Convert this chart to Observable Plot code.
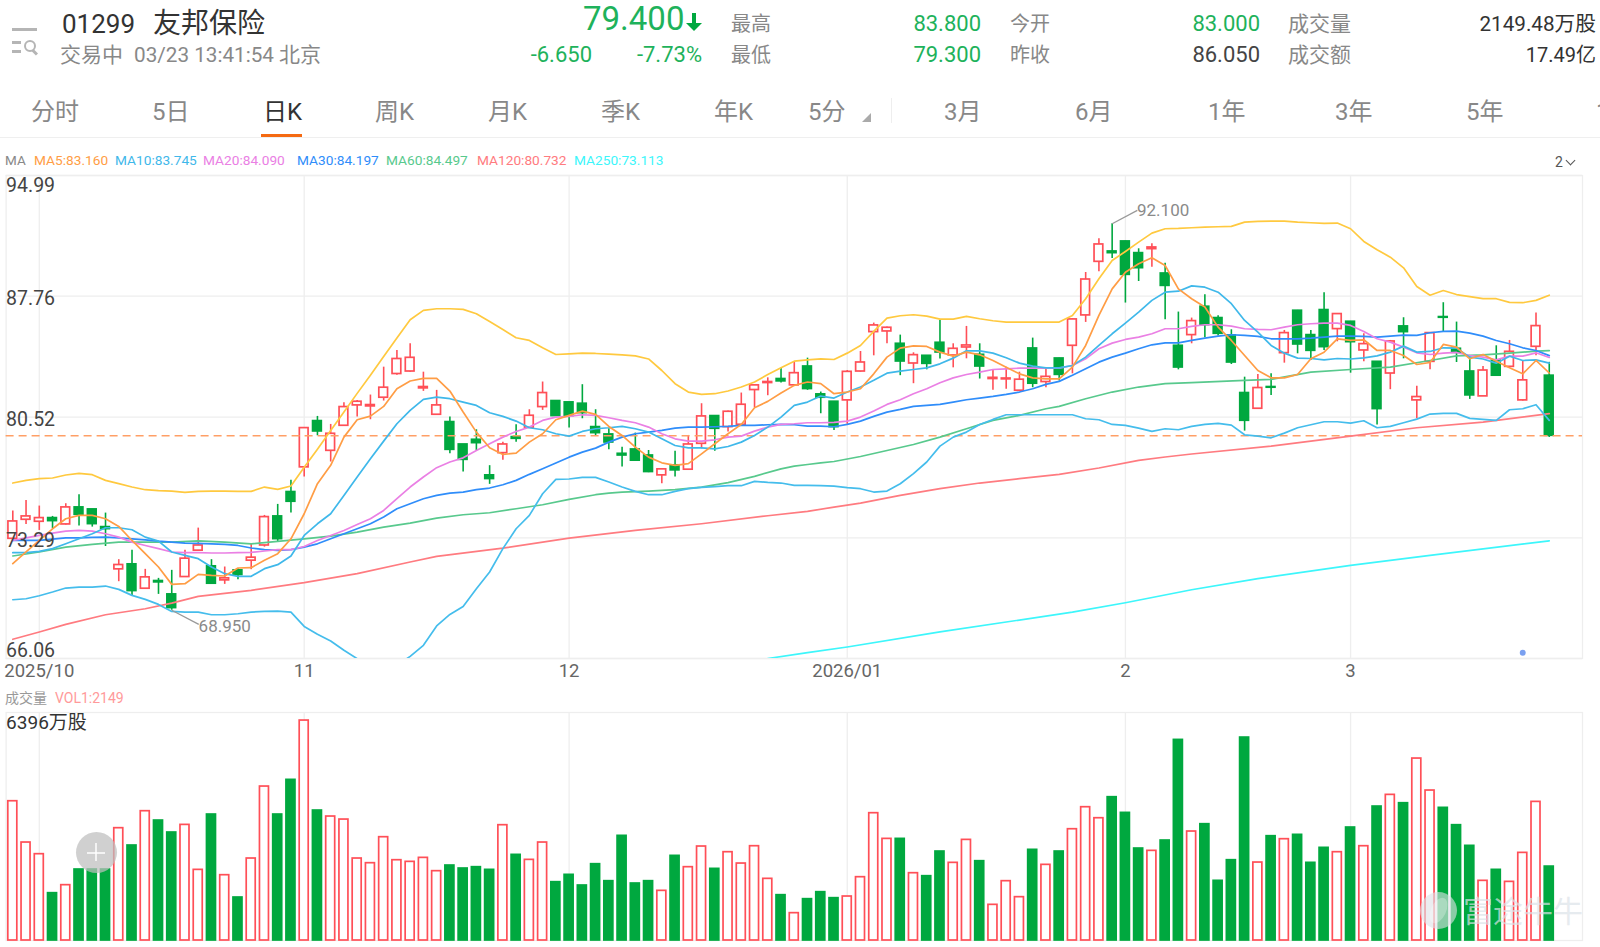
<!DOCTYPE html>
<html lang="zh">
<head>
<meta charset="utf-8">
<title>01299 友邦保险</title>
<script src="https://cdn.jsdelivr.net/npm/d3@7"></script>
<script src="https://cdn.jsdelivr.net/npm/@observablehq/plot@0.6"></script>
<style>
html,body{margin:0;padding:0;background:#fff;}
#page{position:relative;width:1600px;height:947px;overflow:hidden;background:#fff;font-family:Roboto,"Noto Sans CJK SC",sans-serif;}
#page svg{position:absolute;left:0;background:transparent;}
.t{position:absolute;line-height:1;white-space:nowrap;transform:translateY(-50%);}
</style>
</head>
<body>
<div id="page"></div>
<script>
const candleHigh=[74.89,75.53,75.19,74.57,75.33,75.87,74.99,74.77,71.98,72.54,71.40,70.86,71.34,72.54,73.87,71.98,71.54,71.44,72.90,74.63,75.29,76.73,79.88,80.56,80.08,81.38,81.52,81.84,83.51,84.51,
84.91,83.21,82.12,80.52,78.88,79.76,77.61,79.02,80.06,80.96,82.62,81.48,81.40,82.46,80.96,79.82,78.72,79.56,78.52,77.43,78.48,79.42,81.32,80.58,80.88,81.96,82.42,82.87,83.45,83.81,
84.05,82.02,81.46,83.31,84.45,86.15,85.91,85.43,84.37,84.19,86.31,84.91,85.95,84.91,83.37,83.51,83.21,85.25,83.47,84.05,86.41,89.18,91.20,92.10,91.06,90.60,90.90,89.74,86.81,86.45,
87.85,86.59,85.75,82.91,83.07,83.11,85.71,86.91,85.71,87.97,86.71,86.25,85.51,83.85,85.11,86.47,82.36,85.59,87.37,86.21,84.11,83.55,84.79,85.11,83.87,86.75,83.80];
const candleTop=[74.27,74.57,74.47,74.47,75.11,75.11,74.99,73.93,71.66,71.70,70.92,70.70,69.90,72.04,72.83,71.58,70.86,71.34,72.10,74.53,74.57,76.03,79.86,80.28,79.52,81.12,81.44,81.24,82.28,84.00,
84.07,82.32,81.22,80.22,78.88,79.16,77.03,78.88,79.32,80.60,81.96,81.48,81.40,81.32,79.92,79.48,78.32,78.58,78.22,77.39,77.63,78.88,80.56,80.58,80.84,81.26,82.42,82.62,82.80,83.15,
83.55,81.88,81.44,83.23,83.79,86.01,85.87,84.91,84.23,84.19,84.97,84.61,84.81,84.25,82.87,82.83,82.76,84.63,82.93,84.03,86.37,88.76,90.86,90.44,91.04,90.34,90.68,89.12,84.79,86.27,
87.13,86.45,85.41,81.96,82.26,82.32,85.55,86.89,85.43,86.93,86.69,86.23,84.89,83.83,85.05,85.95,81.72,85.55,86.51,84.61,83.25,83.31,83.91,84.43,82.72,85.97,83.00];
const candleBottom=[73.23,74.37,74.25,74.29,74.09,74.67,74.11,73.81,71.40,70.10,70.24,70.62,69.08,70.94,72.52,70.54,70.74,71.06,71.92,72.83,73.21,75.45,77.51,79.66,78.50,80.00,81.22,81.16,81.68,83.10,
83.25,82.24,80.66,78.56,77.96,78.96,76.81,78.36,79.22,79.88,81.12,80.58,80.58,80.76,79.56,79.00,78.22,77.91,77.23,77.03,77.33,77.37,78.92,79.82,79.92,80.06,82.14,82.56,82.66,82.42,
82.20,81.68,79.92,81.52,83.25,85.61,85.65,83.85,83.73,83.71,84.39,84.21,84.69,83.55,82.80,82.78,82.10,82.52,82.62,83.05,84.79,86.61,89.82,90.34,89.04,89.44,90.58,88.38,83.49,85.43,
86.03,85.51,83.79,80.30,81.02,82.28,84.35,84.87,84.49,84.71,85.79,85.01,84.51,81.00,83.13,85.61,81.52,83.83,86.47,84.37,81.82,81.76,83.00,83.53,81.52,84.73,79.40];
const candleLow=[73.23,74.09,73.73,73.83,74.05,73.99,73.93,72.77,70.66,69.82,70.24,69.90,68.95,70.94,72.52,70.54,70.50,70.78,71.38,72.73,73.03,74.77,76.93,79.40,77.83,79.96,80.52,80.36,81.48,83.02,
83.21,82.06,80.62,78.32,77.23,78.52,76.49,77.93,79.02,79.88,80.92,80.58,79.86,80.42,79.38,78.56,77.53,77.87,77.19,76.53,76.93,77.37,78.62,78.48,79.62,80.02,81.08,81.80,82.56,82.36,
82.12,80.72,79.72,80.08,83.21,84.19,84.91,83.00,82.52,83.35,84.00,83.47,84.01,82.80,82.12,82.18,82.04,82.28,82.28,82.68,83.11,86.19,89.22,90.02,87.35,88.64,89.50,86.35,83.35,84.91,
85.27,85.37,83.67,79.68,81.00,81.82,83.75,84.31,83.91,84.51,85.03,83.15,83.83,80.04,82.16,84.01,80.42,83.35,85.61,83.79,81.58,81.76,83.00,83.47,81.48,84.19,79.30];
const fallingDays=[3,5,6,7,9,11,12,15,17,20,21,23,33,34,35,36,38,41,42,43,44,45,46,47,48,50,53,58,60,61,62,67,69,70,73,77,79,83,84,85,87,88,90,91,92,93,95,97,98,99,101,103,105,108,109,110,112,116];
const volumes=[4050,2849,2510,1376,1609,2064,2064,2064,3266,2762,3760,3488,3140,3362,2054,3663,1899,1250,2384,4477,3663,4671,6396,3779,3605,3517,2384,2248,3004,2335,
2287,2403,2016,2180,2093,2132,2054,3353,2490,2345,2849,1696,1909,1599,2219,1725,3043,1657,1725,1444,2461,2132,2733,2083,2568,2238,2742,1793,1318,795,
1202,1405,1231,1279,1841,3702,2955,2955,1957,1870,2587,2258,2926,2306,1037,1725,1260,2636,2200,2587,3236,3876,3556,4167,3711,2674,2607,2907,5833,3169,
3382,1735,2335,5901,2267,3033,2946,3072,2258,2694,2568,3285,2742,3895,4235,3992,5291,4361,3857,3353,2752,1735,2054,1705,2548,4031,2149];

const ma5=[71.74,72.44,73.13,73.83,74.43,74.63,74.63,74.43,73.97,73.13,72.34,71.54,70.50,70.54,71.10,71.04,71.00,71.48,71.50,71.94,72.34,73.23,74.73,76.53,77.63,79.32,80.36,80.58,81.16,82.22,
82.68,82.84,82.84,82.08,80.82,79.62,78.68,78.28,78.36,79.02,79.52,80.36,80.62,80.88,80.68,79.96,79.42,78.72,78.12,77.78,77.63,77.73,78.32,78.92,79.52,80.08,81.08,81.46,81.96,82.42,
82.62,82.52,81.92,82.02,82.22,83.11,84.11,84.65,84.79,84.75,84.41,84.17,84.41,84.25,83.91,83.51,83.11,82.87,82.81,82.81,83.51,84.81,86.61,88.20,89.20,89.70,90.06,89.60,88.20,87.61,
87.11,85.91,85.11,84.21,83.31,82.87,82.87,83.07,84.01,84.41,85.21,85.11,85.15,84.51,84.51,84.21,83.67,83.79,84.87,84.71,84.01,84.27,83.87,83.47,83.11,83.91,83.16];
const ma10=[72.40,72.40,72.48,72.64,72.93,73.23,73.53,73.89,73.89,73.77,73.33,73.09,72.44,72.24,72.04,71.54,71.14,70.98,70.98,71.44,71.68,72.20,73.43,74.13,74.73,75.83,76.93,78.02,79.08,80.12,
80.92,81.58,81.72,81.62,81.42,81.22,80.78,80.56,80.28,79.88,79.76,79.52,79.38,79.66,79.82,79.88,79.96,79.82,79.62,79.22,78.82,78.68,78.68,78.62,78.76,79.02,79.42,79.92,80.52,81.22,
81.42,81.78,81.66,82.02,82.32,82.72,83.15,83.27,83.37,83.47,83.71,84.05,84.49,84.49,84.35,84.07,83.75,83.57,83.47,83.47,83.61,84.11,84.81,85.51,86.15,86.81,87.51,88.00,88.06,88.38,
88.30,88.00,87.31,86.31,85.61,84.81,84.35,84.05,84.03,83.95,84.03,84.00,84.07,84.19,84.41,84.77,84.41,84.45,84.67,84.65,84.11,84.00,83.75,84.17,83.91,83.95,83.75];
const ma20=[73.13,73.28,73.43,73.57,73.69,73.73,73.69,73.53,73.33,73.03,72.83,72.64,72.44,72.40,72.40,72.38,72.38,72.40,72.42,72.50,72.58,72.58,72.77,73.13,73.43,73.73,74.09,74.43,74.93,75.63,
76.33,76.93,77.49,77.83,78.08,78.52,78.92,79.32,79.66,79.92,80.32,80.52,80.56,80.66,80.62,80.48,80.32,80.18,79.92,79.52,79.22,79.08,79.08,79.16,79.32,79.38,79.68,79.92,80.08,80.12,
80.18,80.18,80.20,80.28,80.52,80.88,81.28,81.56,81.92,82.22,82.58,82.87,83.07,83.21,83.37,83.41,83.45,83.45,83.45,83.45,83.61,84.01,84.61,84.95,85.17,85.31,85.51,85.81,85.81,85.95,
86.05,86.05,85.97,85.81,85.77,85.75,85.91,86.05,86.11,86.15,86.15,86.01,85.65,85.21,85.01,84.71,84.37,84.27,84.35,84.39,84.21,84.11,83.95,84.17,84.17,84.37,84.09];
const ma30=[73.13,73.13,73.13,73.21,73.28,73.28,73.32,73.33,73.29,73.23,73.17,73.09,73.03,72.97,72.95,72.93,72.89,72.83,72.68,72.58,72.54,72.58,72.73,72.93,73.23,73.53,73.83,74.13,74.53,75.03,
75.33,75.63,75.83,75.97,76.03,76.17,76.27,76.47,76.73,77.09,77.42,77.77,78.12,78.42,78.66,79.02,79.32,79.52,79.62,79.72,79.86,79.92,79.92,79.94,79.96,80.02,80.02,80.06,80.08,80.06,
79.98,79.98,79.94,80.08,80.28,80.56,80.82,80.98,81.16,81.22,81.28,81.42,81.56,81.66,81.76,81.88,82.02,82.22,82.48,82.66,83.02,83.41,83.81,84.11,84.35,84.61,84.85,84.97,84.97,85.11,
85.25,85.37,85.45,85.41,85.35,85.21,85.21,85.21,85.25,85.31,85.37,85.37,85.35,85.31,85.37,85.43,85.41,85.57,85.65,85.67,85.55,85.37,85.11,84.91,84.67,84.51,84.20];
const ma60Days=[0,2,4,6,8,10,12,14,16,18,20,22,24,26,28,30,32,34,36,38,40,42,44,45,46,48,50,52,54,56,58,59,60,61,62,64,66,68,70,72,74,76,78,79,81,83,85,87,89,93,95,98,101,104,107,109,111,113,115,116];
const ma60=[72.20,72.44,72.73,72.89,73.03,73.03,73.03,73.11,73.03,72.93,73.07,73.23,73.39,73.63,73.93,74.17,74.47,74.67,74.79,75.03,75.27,75.59,75.87,75.97,76.03,76.09,76.17,76.33,76.59,76.97,77.42,77.58,77.68,77.78,77.86,78.16,78.52,78.88,79.32,79.82,80.32,80.62,81.02,81.16,81.62,82.02,82.32,82.52,82.58,82.72,82.78,83.21,83.37,83.51,83.91,84.19,84.25,84.35,84.47,84.50];
const ma120Days=[0,2,4,7,10,12,14,18,22,26,30,32,37,42,47,52,57,60,62,64,67,70,73,76,79,82,85,87,89,95,101,106,111,116];
const ma120=[67.21,67.65,68.10,68.68,69.04,69.38,69.78,70.14,70.60,71.14,71.84,72.18,72.67,73.27,73.73,74.13,74.61,74.87,75.13,75.37,75.83,76.23,76.57,76.83,77.09,77.47,77.93,78.13,78.31,78.78,79.38,79.88,80.22,80.73];
const ma250Days=[57,60,63,70,80,84,89,94,101,107,116];
const ma250=[66.06,66.41,66.75,67.65,68.84,69.40,70.18,70.84,71.64,72.24,73.11];
const bandUpper=[76.57,76.73,76.83,76.87,77.05,77.15,77.07,76.73,76.53,76.33,76.17,76.11,76.09,76.01,76.07,76.09,76.09,76.07,76.07,76.33,76.19,76.39,77.51,78.60,79.72,80.82,81.94,83.03,84.15,85.25,
86.35,86.91,87.01,87.01,86.97,86.71,86.25,85.77,85.27,85.11,84.67,84.27,84.31,84.35,84.33,84.29,84.25,84.19,84.00,83.31,82.52,82.02,81.88,81.92,82.08,82.32,82.62,83.07,83.47,83.87,
83.95,84.01,83.97,84.35,84.81,85.65,86.45,86.59,86.65,86.57,86.39,86.39,86.55,86.41,86.29,86.21,86.21,86.21,86.21,86.21,86.61,87.61,88.80,89.90,90.44,91.00,91.54,91.80,91.82,91.86,
91.90,91.92,91.94,92.20,92.24,92.26,92.26,92.20,92.16,92.12,92.14,91.80,91.04,90.54,90.10,89.46,88.34,87.82,88.10,87.86,87.74,87.61,87.61,87.39,87.37,87.51,87.82];
const bandLower=[69.58,69.64,69.82,70.04,70.28,70.34,70.34,70.40,70.20,69.84,69.60,69.30,68.88,68.84,68.84,68.68,68.68,68.74,68.84,68.88,68.90,68.84,67.98,67.51,67.11,66.55,66.05,65.65,65.45,65.65,
66.19,66.85,68.01,68.70,69.18,70.24,71.24,72.64,73.83,74.63,75.93,76.79,76.81,76.91,76.91,76.63,76.33,76.07,75.87,75.87,76.07,76.23,76.31,76.35,76.41,76.41,76.67,76.61,76.57,76.43,
76.43,76.41,76.39,76.29,76.23,76.03,76.09,76.53,77.13,77.83,78.78,79.32,79.62,80.08,80.38,80.66,80.66,80.66,80.66,80.66,80.66,80.42,80.36,80.08,80.02,79.86,79.66,79.82,79.76,79.96,
80.08,80.14,80.04,79.46,79.38,79.28,79.56,79.88,80.06,80.24,80.24,80.16,80.30,79.88,79.96,80.18,80.40,80.70,80.74,80.74,80.44,80.38,80.32,80.96,81.02,81.26,80.32];

const priceTicks=[94.99,87.76,80.52,73.29,66.06];
const monthDays=[2,22,42,63,84,101];
const monthLabels=["2025/10","11","12","2026/01","2","3"];
const lastPrice=79.4;
const maColors={ma5:"#ff9d45",ma10:"#3fb8ea",ma20:"#ea80e4",ma30:"#2f8dfa",ma60:"#58c98d",ma120:"#ff7b80",ma250:"#3df6fb",upper:"#ffc93f",lower:"#45bdec"};
const upColor="#ff4f57",downColor="#00a83f",gridColor="#eeeeee";
const legendItems=[["MA5:83.160",34,maColors.ma5],["MA10:83.745",115,maColors.ma10],["MA20:84.090",203,maColors.ma20],["MA30:84.197",297,maColors.ma30],["MA60:84.497",386,maColors.ma60],["MA120:80.732",477,maColors.ma120],["MA250:73.113",574,maColors.ma250]];
const tabs=[["分时",31],["5日",152],["日K",263],["周K",375],["月K",488],["季K",601],["年K",714],["5分",808],["3月",944],["6月",1075],["1年",1208],["3年",1335],["5年",1466],["10年",1596]];

const fall=new Set(fallingDays);
const days=d3.range(candleHigh.length);
const candles=days.map(i=>({i,high:candleHigh[i],top:candleTop[i],bottom:candleBottom[i],low:candleLow[i],vol:volumes[i],down:fall.has(i)}));
const seq=(vals,idx)=>vals.map((v,k)=>({i:idx?idx[k]:k,v}));
const xDomain=[-0.506,118.51];
const lineMark=(vals,color,idx)=>Plot.line(seq(vals,idx),{x:"i",y:"v",stroke:color,strokeWidth:1.7,clip:true});
const page=document.getElementById("page");

function put(text,x,y,o={}){
  const s=document.createElement("span");s.className="t";s.textContent=text;
  s.style.fontSize=(o.size||20)+"px";s.style.color=o.color||"#888";
  if(o.right){s.style.right=(1600-x)+"px";}else{s.style.left=x+"px";}
  s.style.top=y+"px";if(o.weight)s.style.fontWeight=o.weight;
  page.appendChild(s);return s;
}
function box(x,y,w,h,bg,extra){
  const d=document.createElement("div");d.style.cssText=`position:absolute;left:${x}px;top:${y}px;width:${w}px;height:${h}px;background:${bg};${extra||""}`;
  page.appendChild(d);return d;
}

// header
box(12,28,25,3,"#b5b5b5");box(12,41,9,2.5,"#b5b5b5");box(12,50,9,2.5,"#b5b5b5");
box(24,40,12,12,"transparent","border:2.5px solid #b5b5b5;border-radius:50%;box-sizing:border-box;");
box(32,51,6,2.5,"#b5b5b5","transform:rotate(45deg);");
put("01299",62,24,{size:26,color:"#333"});put("友邦保险",153,24,{size:28,color:"#333"});
put("交易中",60,55,{size:21});put("03/23 13:41:54",134,55,{size:20.7});put("北京",279,55,{size:21});
put("79.400",583,18,{size:33,color:"#1eb25b"});
box(692,13,4,10,"#00a83f");box(686,23,0,0,"transparent","border-left:8px solid transparent;border-right:8px solid transparent;border-top:8px solid #00a83f;");
put("-6.650",592,55,{size:22,color:"#1eb25b",right:true});put("-7.73%",702,55,{size:22,color:"#1eb25b",right:true});
put("最高",731,24,{size:20});put("最低",731,55,{size:20});
put("83.800",981,24,{size:22,color:"#1eb25b",right:true});put("79.300",981,55,{size:22,color:"#1eb25b",right:true});
put("今开",1010,24,{size:20});put("昨收",1010,55,{size:20});
put("83.000",1260,24,{size:22,color:"#1eb25b",right:true});put("86.050",1260,55,{size:22,color:"#444",right:true});
put("成交量",1288,24,{size:21});put("成交额",1288,55,{size:21});
put("2149.48万股",1596,24,{size:20.7,color:"#333",right:true});put("17.49亿",1596,55,{size:20,color:"#333",right:true});
tabs.forEach(([t,x])=>put(t,x,112,{size:24,color:t==="日K"?"#333":"#888"}));
box(862,113,0,0,"transparent","border-left:9px solid transparent;border-bottom:9px solid #aaa;");
box(891,98,1,25,"#eee");box(261,134,41,3,"#f56a12");box(0,137,1600,1,"#efefef");
put("MA",5,161,{size:13.5,color:"#888"});
legendItems.forEach(([t,x,c])=>put(t,x,161,{size:13.7,color:c}));
put("2",1555,162,{size:14,color:"#555"});
box(1567,157,7,7,"transparent","border-right:1.5px solid #555;border-bottom:1.5px solid #555;transform:rotate(45deg);box-sizing:border-box;");

// price chart
const kChart=Plot.plot({
  width:1600,height:525,marginTop:15,marginBottom:27,marginLeft:5.6,marginRight:18,
  style:{background:"transparent",fontFamily:"Roboto,'Noto Sans CJK SC',sans-serif"},
  x:{type:"linear",domain:xDomain,axis:null},
  y:{domain:[priceTicks[4],priceTicks[0]],axis:null},
  marks:[
    Plot.gridY(priceTicks,{stroke:gridColor,strokeOpacity:1,strokeWidth:1.3}),
    Plot.gridX(monthDays,{stroke:gridColor,strokeOpacity:1,strokeWidth:1.3}),
    Plot.frame({stroke:gridColor,strokeWidth:1.3}),
    Plot.ruleX(candles,{x:"i",y1:"low",y2:"high",stroke:d=>d.down?downColor:upColor,strokeWidth:1.6}),
    Plot.rect(candles,{x1:d=>d.i-0.33,x2:d=>d.i+0.33,y1:"bottom",y2:"top",fill:d=>d.down?downColor:"#fff",stroke:d=>d.down?downColor:upColor,strokeWidth:1.7}),
    Plot.ruleY([lastPrice],{stroke:"#ff9f66",strokeWidth:1.6,strokeDasharray:"8,5"}),
    lineMark(ma250,maColors.ma250,ma250Days),
    lineMark(ma120,maColors.ma120,ma120Days),
    lineMark(ma60,maColors.ma60,ma60Days),
    lineMark(bandLower,maColors.lower),
    lineMark(bandUpper,maColors.upper),
    lineMark(ma30,maColors.ma30),
    lineMark(ma20,maColors.ma20),
    lineMark(ma10,maColors.ma10),
    lineMark(ma5,maColors.ma5),
    Plot.link([{x1:83,y1:92.1,x2:84.9,y2:92.9},{x1:12,y1:68.95,x2:14.04,y2:68.1}],{x1:"x1",y1:"y1",x2:"x2",y2:"y2",stroke:"#999",strokeWidth:1.3}),
    Plot.text([{x:84.8,y:92.9,t:"92.100"},{x:13.95,y:68.0,t:"68.950"}],{x:"x",y:"y",text:"t",textAnchor:"start",dx:1,fontSize:17,fill:"#8a8a8a"}),
    Plot.text(priceTicks.slice(0,1),{y:d=>d,text:d=>d.toFixed(2),frameAnchor:"left",textAnchor:"start",dx:0,dy:10,fontSize:19.5,fill:"#444"}),
    Plot.text(priceTicks.slice(1,4),{y:d=>d,text:d=>d.toFixed(2),frameAnchor:"left",textAnchor:"start",dx:0,dy:3,fontSize:19.5,fill:"#444"}),
    Plot.text(priceTicks.slice(4),{y:d=>d,text:d=>d.toFixed(2),frameAnchor:"left",textAnchor:"start",dx:0,dy:-8,fontSize:19.5,fill:"#444"}),
    Plot.text(monthDays,{x:d=>d,text:(d,k)=>monthLabels[k],frameAnchor:"bottom",dy:18,fontSize:18.5,fill:"#666"}),
    Plot.dot([{x:114,y:66.4}],{x:"x",y:"y",r:3,fill:"#7aa0f0"})
  ]
});
kChart.style.top="160px";page.appendChild(kChart);

put("成交量",5,698,{size:14,color:"#999"});put("VOL1:2149",55,698,{size:14,color:"#ff9a9a"});

// volume chart
const volChart=Plot.plot({
  width:1600,height:247,marginTop:12,marginBottom:7,marginLeft:5.6,marginRight:18,
  style:{background:"transparent",fontFamily:"Roboto,'Noto Sans CJK SC',sans-serif"},
  x:{type:"linear",domain:xDomain,axis:null},
  y:{domain:[0,6630],axis:null},
  marks:[
    Plot.gridX(monthDays,{stroke:gridColor,strokeOpacity:1,strokeWidth:1.3}),
    Plot.frame({stroke:gridColor,strokeWidth:1.3}),
    Plot.rect(candles,{x1:d=>d.i-0.34,x2:d=>d.i+0.34,y1:0,y2:"vol",fill:d=>d.down?downColor:"#fff",stroke:d=>d.down?downColor:upColor,strokeWidth:1.7}),
    Plot.text(["6396万股"],{frameAnchor:"top-left",dx:0,dy:3,fontSize:19,fill:"#333",lineAnchor:"top",textAnchor:"start"})
  ]
});
volChart.style.top="700px";page.appendChild(volChart);

// overlays
box(75.5,832,41,41,"rgba(190,190,190,.72)","border-radius:50%;");
box(87,851.5,18,2,"rgba(255,255,255,.75)");box(95,843,2,18,"rgba(255,255,255,.75)");
put("富途牛牛",1463,912,{size:30,color:"rgba(220,226,232,.7)"});
box(1420,892,37,37,"rgba(222,226,230,.62)","border-radius:50%;");
box(1431,897,15,27,"rgba(255,255,255,.28)","border-radius:50%;transform:rotate(25deg);");
</script>
</body>
</html>
